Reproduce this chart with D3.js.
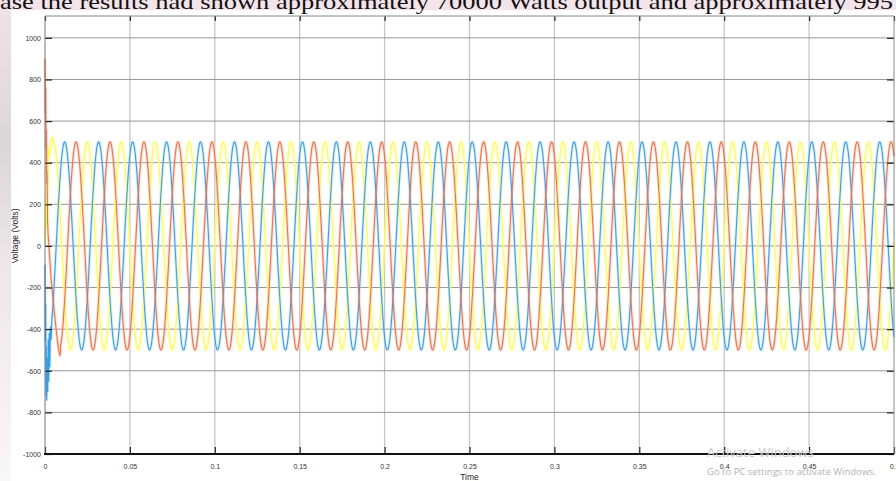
<!DOCTYPE html>
<html>
<head>
<meta charset="utf-8">
<script src="https://cdn.jsdelivr.net/npm/d3@7"></script>
<style>
  body { margin: 0; background: #fff; }
  svg { display: block; }
</style>
</head>
<body>
<div id="chart"></div>
<script>
const W = 896, H = 481;
const margin = ({top: 16, right: 2, bottom: 27, left: 45});

// phases of the scope trace, in drawing order
const phaseNames = ['Va', 'Vb', 'Vc'];
const phaseColors = ['#ffff3a', '#2f9ff5', '#ff6a3c'];
const haloColors = ['#ffff9a', '#a9d7fb', '#ffb9a3'];
// steady state
const amplitude = [500, 500, 500];          // volts
const frequencyHz = 50;
const peakTime = [0.0049, 0.0116, 0.0183];  // time of a positive peak (s)
const steadyFrom = [0.0058, 0.0042, 0.0092];

// start-up transient, [time, volts]
const transientA = [[0, 10], [0.0004, 220], [0.0008, 90], [0.0012, 360], [0.0016, 280],
  [0.002, 470], [0.0027, 430], [0.0034, 505], [0.0045, 522], [0.0058, 470]];
const transientB = [[0, -90], [0.0002, -460], [0.0004, -280], [0.0006, -720], [0.0008, -480],
  [0.001, -740], [0.0013, -540], [0.0016, -700], [0.0019, -450], [0.0022, -650], [0.0025, -420],
  [0.0028, -580], [0.0032, -390], [0.0036, -450], [0.0042, -330]];
const transientC = [[0, 900], [0.0002, 640], [0.0004, 760], [0.0006, 470], [0.0008, 560],
  [0.001, 300], [0.0012, 360], [0.0015, 120], [0.0018, 60], [0.0035, -150], [0.006, -360],
  [0.0078, -490], [0.0088, -528], [0.0092, -500]];
const transients = [transientA, transientB, transientC];

const xTicks = [0, 0.05, 0.1, 0.15, 0.2, 0.25, 0.3, 0.35, 0.4, 0.45, 0.5];
const yTicks = [-1000, -800, -600, -400, -200, 0, 200, 400, 600, 800, 1000];

const svg = d3.select('#chart').append('svg')
    .attr('width', W)
    .attr('height', H);

// page background around the figure
const defs = svg.append('defs');
const grad = defs.append('linearGradient').attr('id', 'leftblur')
    .attr('x1', 0).attr('y1', 0).attr('x2', 0).attr('y2', 1);
grad.append('stop').attr('offset', '0%').attr('stop-color', '#f1e3e8');
grad.append('stop').attr('offset', '30%').attr('stop-color', '#dcd6d8');
grad.append('stop').attr('offset', '55%').attr('stop-color', '#eee6e9');
grad.append('stop').attr('offset', '100%').attr('stop-color', '#faf7f8');

svg.append('rect').attr('x', 0).attr('y', 0).attr('width', W).attr('height', 10).attr('fill', '#f2e4e9');
svg.append('rect').attr('x', 0).attr('y', 0).attr('width', 11).attr('height', H).attr('fill', 'url(#leftblur)');

svg.append('text')
    .attr('x', 0).attr('y', 9)
    .attr('font-family', 'Liberation Serif, Times New Roman, serif')
    .attr('font-size', 22)
    .attr('fill', '#111')
    .attr('textLength', 893)
    .attr('lengthAdjust', 'spacingAndGlyphs')
    .text('ase the results had shown approximately 70000 Watts output and approximately 995');

const x = d3.scaleLinear().domain([0, 0.5]).range([margin.left, W - margin.right]);
const y = d3.scaleLinear().domain([-1000, 1105]).range([H - margin.bottom, margin.top]);

const plot = svg.append('g');
plot.append('rect')
    .attr('x', x(0)).attr('y', y(1105))
    .attr('width', x(0.5) - x(0)).attr('height', y(-1000) - y(1105))
    .attr('fill', '#fff');

// grid
plot.append('g').selectAll('line').data(xTicks.slice(1, -1)).join('line')
    .attr('x1', d => x(d)).attr('x2', d => x(d))
    .attr('y1', y(1105)).attr('y2', y(-1000))
    .attr('stroke', '#c6c6c6').attr('stroke-width', 1.3);
plot.append('g').selectAll('line').data(yTicks.slice(1)).join('line')
    .attr('x1', x(0)).attr('x2', x(0.5))
    .attr('y1', d => y(d)).attr('y2', d => y(d))
    .attr('stroke', '#979797').attr('stroke-width', 1);

// traces
const line = d3.line().x(d => x(d[0])).y(d => y(d[1]));
const traces = phaseNames.map((name, i) => {
  const w = 2 * Math.PI * frequencyHz;
  const steady = d3.range(steadyFrom[i], 0.5001, 0.0002)
    .map(t => [t, amplitude[i] * Math.cos(w * (t - peakTime[i]))]);
  return transients[i].concat(steady);
});

const traceG = plot.append('g');
traceG.selectAll('path.halo').data(traces).join('path')
    .attr('class', 'halo')
    .attr('d', line)
    .attr('fill', 'none')
    .attr('stroke', (d, i) => haloColors[i])
    .attr('stroke-width', 2.6)
    .attr('stroke-opacity', 0.55)
    .attr('stroke-linejoin', 'round');
traceG.selectAll('path.core').data(traces).join('path')
    .attr('class', 'core')
    .attr('d', line)
    .attr('fill', 'none')
    .attr('stroke', (d, i) => phaseColors[i])
    .attr('stroke-width', 1.05)
    .attr('stroke-linejoin', 'round');

// axes with inward ticks on all four sides
const axisStyle = g => {
  g.select('.domain').remove();
  g.selectAll('.tick line').attr('stroke', '#222').attr('stroke-width', 1.2);
  g.selectAll('.tick text')
      .attr('font-family', 'Liberation Sans, Arial, sans-serif')
      .attr('font-size', 7)
      .attr('fill', '#333');
};

svg.append('g')
    .attr('transform', `translate(0,${y(-1000)})`)
    .call(d3.axisBottom(x).tickValues(xTicks).tickFormat(d => String(d)).tickSizeInner(-7).tickPadding(10))
    .call(axisStyle);
svg.append('g')
    .attr('transform', `translate(0,${y(1105)})`)
    .call(d3.axisTop(x).tickValues(xTicks).tickFormat('').tickSizeInner(-5))
    .call(axisStyle);
svg.append('g')
    .attr('transform', `translate(${x(0)},0)`)
    .call(d3.axisLeft(y).tickValues(yTicks).tickFormat(d => String(d)).tickSizeInner(-7).tickPadding(4))
    .call(axisStyle);
svg.append('g')
    .attr('transform', `translate(${x(0.5)},0)`)
    .call(d3.axisRight(y).tickValues(yTicks).tickFormat('').tickSizeInner(-7))
    .call(axisStyle);

// box
svg.append('line').attr('x1', x(0)).attr('x2', x(0)).attr('y1', y(1105)).attr('y2', y(-1000))
    .attr('stroke', '#777').attr('stroke-width', 1);
svg.append('line').attr('x1', x(0)).attr('x2', x(0.5)).attr('y1', y(1105)).attr('y2', y(1105))
    .attr('stroke', '#888').attr('stroke-width', 1);
svg.append('line').attr('x1', x(0.5)).attr('x2', x(0.5)).attr('y1', y(1105)).attr('y2', y(-1000))
    .attr('stroke', '#888').attr('stroke-width', 1);
svg.append('line').attr('x1', x(0) - 1).attr('x2', x(0.5)).attr('y1', y(-1000)).attr('y2', y(-1000))
    .attr('stroke', '#111').attr('stroke-width', 2);

// axis titles
svg.append('text')
    .attr('x', (x(0) + x(0.5)) / 2).attr('y', 480)
    .attr('text-anchor', 'middle')
    .attr('font-family', 'Liberation Sans, Arial, sans-serif')
    .attr('font-size', 8.5).attr('fill', '#222')
    .text('Time');
svg.append('text')
    .attr('transform', `translate(18,${y(0) - 10}) rotate(-90)`)
    .attr('text-anchor', 'middle')
    .attr('font-family', 'Liberation Sans, Arial, sans-serif')
    .attr('font-size', 8.5).attr('fill', '#222')
    .text('Voltage (Volts)');

// windows watermark
svg.append('text')
    .attr('x', 707).attr('y', 457)
    .attr('font-family', 'Open Sans, DejaVu Sans, sans-serif')
    .attr('font-size', 13).attr('fill', '#c9c9c9')
    .text('Activate Windows');
svg.append('text')
    .attr('x', 707).attr('y', 475)
    .attr('font-family', 'Open Sans, DejaVu Sans, sans-serif')
    .attr('font-size', 9.5).attr('fill', '#b3b3b3')
    .text('Go to PC settings to activate Windows.');
</script>
</body>
</html>
